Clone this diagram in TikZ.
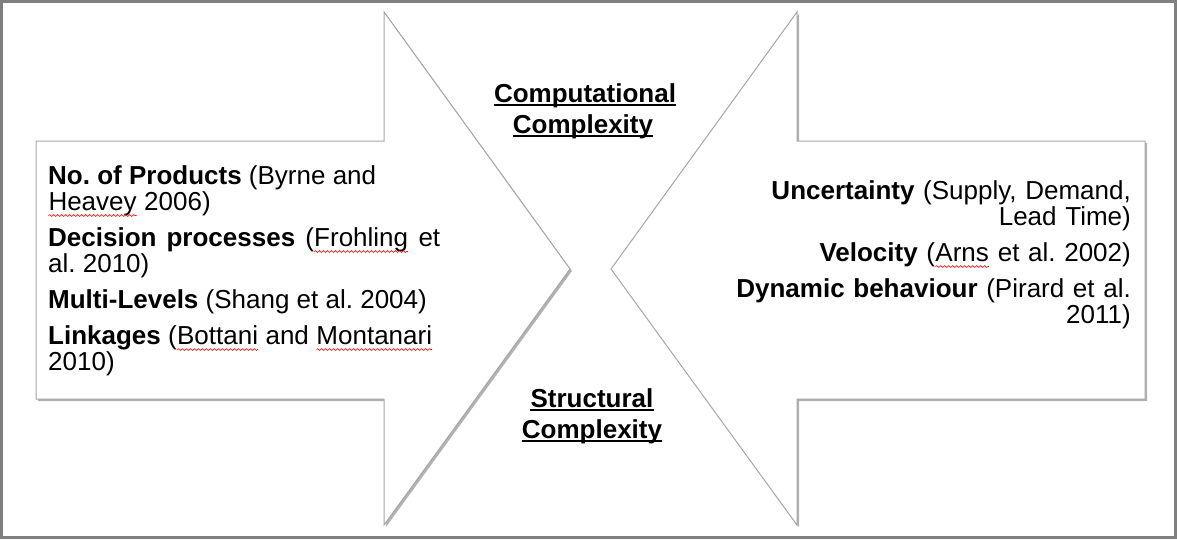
\documentclass[tikz,border=0pt]{standalone}
\usepackage{fontspec}
\setmainfont{Liberation Sans}
\usepackage{tikz}
\usetikzlibrary{shadows, decorations.pathmorphing}

\definecolor{framegray}{HTML}{7F7F7F}
\definecolor{arrowgray}{HTML}{A6A6A6}

\frenchspacing
\hyphenpenalty=10000

% red spell-check wave under a word
\newcommand{\squig}[1]{\tikz[baseline=(w.base)]{%
  \node[inner sep=0pt, outer sep=0pt, text width={}, align=none, anchor=base] (w) {#1};
  \draw[red, line width=0.6pt, decorate, decoration={snake, amplitude=0.9pt, segment length=4pt}]
    ([yshift=-5.5pt]w.base west) -- ([yshift=-5.5pt]w.base east);}}

\tikzset{
  arrowshape/.style={draw=arrowgray, line width=1pt, fill=white,
    drop shadow={shadow xshift=2pt, shadow yshift=-2pt, fill=black, opacity=0.3}},
  refs/.style={inner sep=0pt, text width=#1, font=\fontsize{26}{26}\selectfont},
  heading/.style={inner sep=0pt, anchor=base, font=\fontsize{26}{31}\selectfont\bfseries}
}

\begin{document}
\begin{tikzpicture}[x=1pt, y=-1pt]
\useasboundingbox (0,0) rectangle (1177,539);

% draw outer frame
\draw[color=framegray, line width=3pt] (1.5,1.5) rectangle (1175.5,537.5);

% draw both arrows
\filldraw[arrowshape] (36,141) -- (384,141) -- (384,12) -- (570,269)
                      -- (384,525) -- (384,399) -- (36,399) -- cycle;
\filldraw[arrowshape] (1145,141) -- (797,141) -- (797,12) -- (611,269)
                      -- (797,525) -- (797,399) -- (1145,399) -- cycle;

% draw headings
\node[heading] (comp1) at (585,102) {Computational};
\node[heading] (comp2) at (583,133) {Complexity};
\node[heading] (struct1) at (592,407) {Structural};
\node[heading] (struct2) at (592,438) {Complexity};
\foreach \n in {comp1, comp2, struct1, struct2}
  \draw[line width=1.6pt] ([yshift=-2.8pt]\n.base west) -- ([yshift=-2.8pt]\n.base east);

% draw references
\node[refs=392pt, align=justify, anchor=north west] (leftrefs) at (48,165) {%
  \textbf{No. of Products} (Byrne and\\
  \squig{Heavey} 2006)\par\vspace{10pt}
  \textbf{Decision processes} (\squig{Frohling} et\linebreak al. 2010)\par\vspace{10pt}
  \textbf{Multi-Levels} (Shang et al. 2004)\par\vspace{10pt}
  \textbf{Linkages} (\squig{Bottani} and \squig{Montanari}\\
  2010)};

\node[refs=420pt, align=right, anchor=north east] (rightrefs) at (1131,180) {%
  \textbf{Uncertainty} (Supply, Demand,\\
  Lead Time)\par\vspace{10pt}
  \textbf{Velocity} (\squig{Arns} et al. 2002)\par\vspace{10pt}
  \textbf{Dynamic behaviour} (Pirard et al.\\
  2011)};

\end{tikzpicture}
\end{document}
